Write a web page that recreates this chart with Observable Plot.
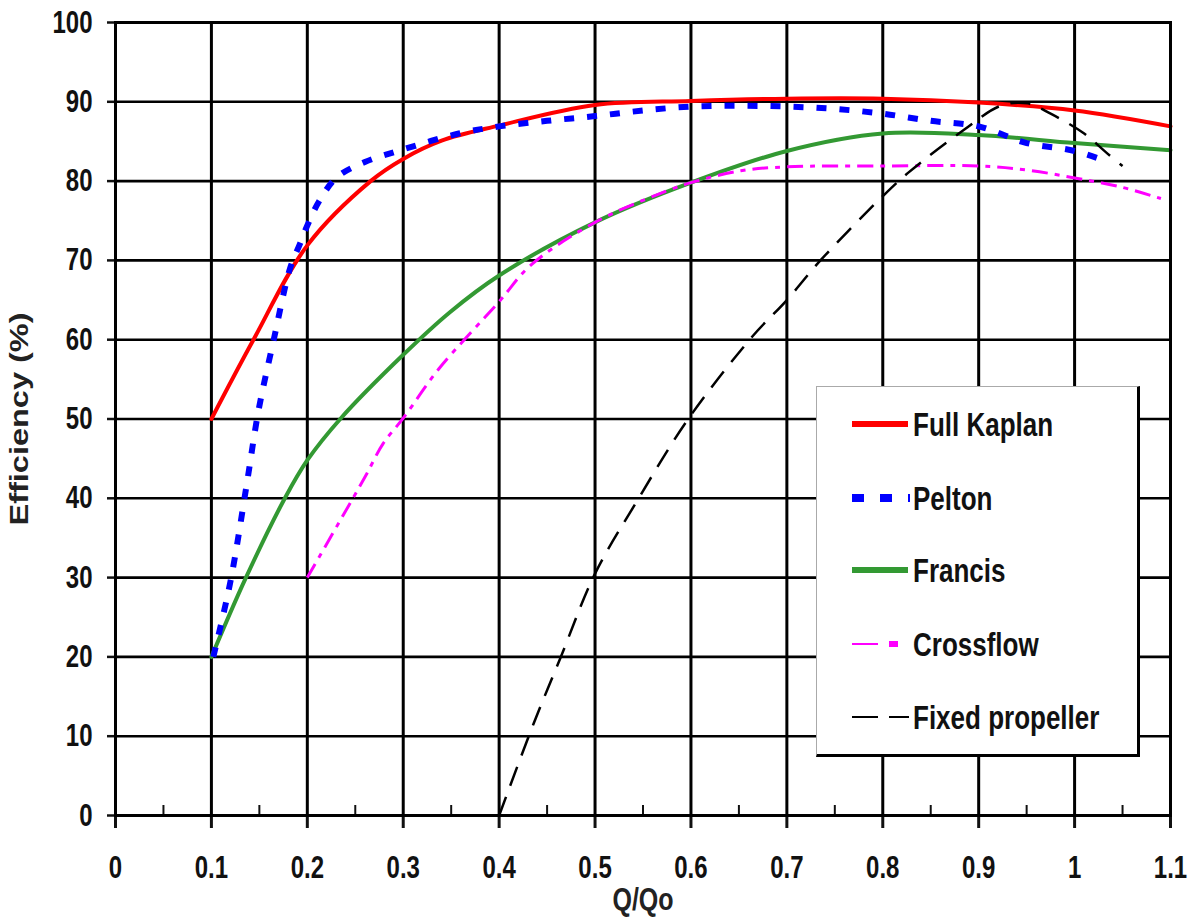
<!DOCTYPE html>
<html>
<head>
<meta charset="utf-8">
<script src="https://cdn.jsdelivr.net/npm/d3@7"></script>
<script src="https://cdn.jsdelivr.net/npm/@observablehq/plot@0.6"></script>
<style>
  html, body { margin: 0; padding: 0; background: #fff; }
  #wrap { position: relative; width: 1198px; height: 920px; overflow: hidden; font-family: "Liberation Sans", Arial, sans-serif; }
  #legend { position: absolute; left: 816px; top: 386px; width: 324px; height: 371px; background: #fff;
            border-top: 1px solid #aaa; border-left: 1px solid #aaa; border-right: 3px solid #000; border-bottom: 3px solid #000; box-sizing: border-box; }
  .item { position: absolute; left: 0; width: 100%; height: 0; }
  .item svg { position: absolute; left: 35px; top: -10px; overflow: visible; }
  .item span { position: absolute; left: 96px; top: -16px; line-height: 32px; font-weight: bold; font-size: 26px; color: #111;
               transform: scaleY(1.28); transform-origin: 0 50%; white-space: nowrap; }
</style>
</head>
<body>
<div id="wrap"></div>
<script>
// ---- Data ----
const xTicks = [0, 0.1, 0.2, 0.3, 0.4, 0.5, 0.6, 0.7, 0.8, 0.9, 1, 1.1];
const xTickLabels = ["0", "0.1", "0.2", "0.3", "0.4", "0.5", "0.6", "0.7", "0.8", "0.9", "1", "1.1"];
const xMinorTicks = [0.05, 0.15, 0.25, 0.35, 0.45, 0.55, 0.65, 0.75, 0.85, 0.95, 1.05];
const yTicks = [0, 10, 20, 30, 40, 50, 60, 70, 80, 90, 100];

const seriesNames = ["Full Kaplan", "Pelton", "Francis", "Crossflow", "Fixed propeller"];
const seriesColors = ["#ff0000", "#0000ff", "#339933", "#ff00ff", "#000000"];

const qKaplan = [0.1, 0.143, 0.2, 0.266, 0.3, 0.34, 0.4, 0.5, 0.6, 0.7, 0.8, 0.9, 1.0, 1.1];
const effKaplan = [50, 59.8, 71.9, 80, 82.8, 85.1, 87, 89.6, 90.1, 90.4, 90.4, 89.9, 88.9, 86.9];

const qPelton = [0.102, 0.12, 0.137, 0.149, 0.165, 0.182, 0.192, 0.2, 0.212, 0.231, 0.26, 0.3, 0.358, 0.4, 0.45, 0.5, 0.55, 0.6, 0.65, 0.7, 0.75, 0.8, 0.85, 0.9, 0.95, 1.0, 1.035];
const effPelton = [20, 29.6, 41.9, 51, 60, 69, 72, 74.4, 77.4, 80.5, 82.4, 84, 86, 86.9, 87.6, 88.2, 88.9, 89.4, 89.5, 89.4, 89.1, 88.5, 87.6, 86.9, 84.8, 83.8, 82.4];

const qFrancis = [0.1, 0.136, 0.177, 0.2, 0.235, 0.3, 0.349, 0.4, 0.5, 0.6, 0.7, 0.8, 0.9, 1.0, 1.1];
const effFrancis = [20, 30, 40.1, 44.8, 50.1, 58.1, 63.5, 68.1, 74.8, 79.8, 83.8, 86, 85.8, 84.8, 83.9];

const qCrossflow = [0.2, 0.248, 0.262, 0.279, 0.3, 0.337, 0.4, 0.433, 0.5, 0.565, 0.6, 0.652, 0.7, 0.8, 0.9, 0.95, 1.0, 1.05, 1.09];
const effCrossflow = [30, 40.1, 43.1, 46.9, 50.1, 56.3, 64.8, 69.4, 74.8, 78.3, 79.8, 81.3, 81.8, 81.9, 81.9, 81.4, 80.4, 79.2, 77.8];

const qFixed = [0.4, 0.436, 0.464, 0.5, 0.544, 0.596, 0.664, 0.7, 0.735, 0.8, 0.826, 0.884, 0.923, 0.951, 0.975, 1.01, 1.034, 1.05];
const effFixed = [0, 11.6, 19.9, 30.5, 39.7, 49.8, 60.4, 65, 70, 78.1, 81, 86.4, 89.5, 89.8, 88.5, 86, 83.5, 81.9];

// ---- Build tables ----
const toRows = (qs, es) => qs.map((q, i) => ({q, e: es[i]}));
const kaplan = toRows(qKaplan, effKaplan);
const pelton = toRows(qPelton, effPelton);
const francis = toRows(qFrancis, effFrancis);
const crossflow = toRows(qCrossflow, effCrossflow);
const fixedProp = toRows(qFixed, effFixed);

const FONT = '"Liberation Sans", Arial, Helvetica, sans-serif';
const curve = "catmull-rom";

const chart = Plot.plot({
  width: 1198,
  height: 920,
  marginLeft: 115,
  marginRight: 28,
  marginTop: 22,
  marginBottom: 105,
  style: {fontFamily: FONT, background: "#fff", color: "#111", overflow: "visible"},
  x: {domain: [0, 1.1]},
  y: {domain: [0, 100]},
  marks: [
    Plot.gridX(xTicks, {stroke: "#000", strokeOpacity: 1, strokeWidth: 3}),
    Plot.gridY(yTicks, {stroke: "#000", strokeOpacity: 1, strokeWidth: 2.6}),
    Plot.axisX(xMinorTicks, {tickSize: 10, insetBottom: 10, tickFormat: () => "", strokeWidth: 2, label: null}),
    Plot.axisX(xTicks, {
      tickSize: 13, tickPadding: 27, strokeWidth: 3,
      tickFormat: d => xTickLabels[xTicks.indexOf(d)],
      fontSize: 24, fontWeight: "bold",
      label: "Q/Qo", labelAnchor: "center", labelOffset: 94, labelArrow: "none"
    }),
    Plot.axisY(yTicks, {
      tickSize: 8, tickPadding: 15, strokeWidth: 2.5,
      fontSize: 24, fontWeight: "bold",
      label: "Efficiency (%)", labelAnchor: "center", labelOffset: 105, labelArrow: "none"
    }),
    Plot.line(kaplan, {x: "q", y: "e", stroke: seriesColors[0], strokeWidth: 4, curve}),
    Plot.line(francis, {x: "q", y: "e", stroke: seriesColors[2], strokeWidth: 4, curve}),
    Plot.line(pelton, {x: "q", y: "e", stroke: seriesColors[1], strokeWidth: 6, strokeDasharray: "10,13", strokeLinecap: "butt", curve}),
    Plot.line(crossflow, {x: "q", y: "e", stroke: seriesColors[3], strokeWidth: 3, strokeDasharray: "16,7,5,7", strokeLinecap: "butt", curve}),
    Plot.line(fixedProp, {x: "q", y: "e", stroke: seriesColors[4], strokeWidth: 2.5, strokeDasharray: "20,12", strokeLinecap: "butt", curve}),
    Plot.frame({stroke: "#000", strokeWidth: 3})
  ]
});

// Stretch the text vertically to match the tall, narrow lettering of the original
function stretch(sel, sx, sy) {
  chart.querySelectorAll(sel).forEach(t => {
    const tr = t.getAttribute("transform") || "";
    const x = +t.getAttribute("x") || 0, y = +t.getAttribute("y") || 0;
    t.setAttribute("transform", `${tr} translate(${x},${y}) scale(${sx},${sy}) translate(${-x},${-y})`);
  });
}
stretch('g[aria-label="x-axis tick label"] text', 1, 1.3);
stretch('g[aria-label="y-axis tick label"] text', 1, 1.3);
stretch('g[aria-label="x-axis label"] text', 1, 1.25);
stretch('g[aria-label="y-axis label"] text', 1.3, 1);
chart.querySelectorAll('g[aria-label="x-axis label"] text, g[aria-label="y-axis label"] text').forEach(t => {
  t.setAttribute("font-size", 25);
  t.setAttribute("font-weight", "bold");
  t.setAttribute("fill", "#222");
});

const wrap = document.getElementById("wrap");
wrap.appendChild(chart);

// ---- Legend ----
const legend = document.createElement("div");
legend.id = "legend";
const rowTops = [37, 111, 183, 257, 330];
const samples = [
  `<line x1="0" y1="10" x2="56" y2="10" stroke="${seriesColors[0]}" stroke-width="6"/>`,
  `<line x1="0" y1="10" x2="58" y2="10" stroke="${seriesColors[1]}" stroke-width="8" stroke-dasharray="12,16"/>`,
  `<line x1="0" y1="10" x2="56" y2="10" stroke="${seriesColors[2]}" stroke-width="6"/>`,
  `<line x1="0" y1="10" x2="26" y2="10" stroke="${seriesColors[3]}" stroke-width="2"/><rect x="37" y="7" width="9" height="6" fill="${seriesColors[3]}"/>`,
  `<line x1="0" y1="10" x2="26" y2="10" stroke="${seriesColors[4]}" stroke-width="2"/><line x1="37" y1="10" x2="57" y2="10" stroke="${seriesColors[4]}" stroke-width="2"/>`
];
seriesNames.forEach((name, i) => {
  const item = document.createElement("div");
  item.className = "item";
  item.style.top = rowTops[i] + "px";
  item.innerHTML = `<svg width="60" height="20">${samples[i]}</svg><span>${name}</span>`;
  legend.appendChild(item);
});
wrap.appendChild(legend);
</script>
</body>
</html>
